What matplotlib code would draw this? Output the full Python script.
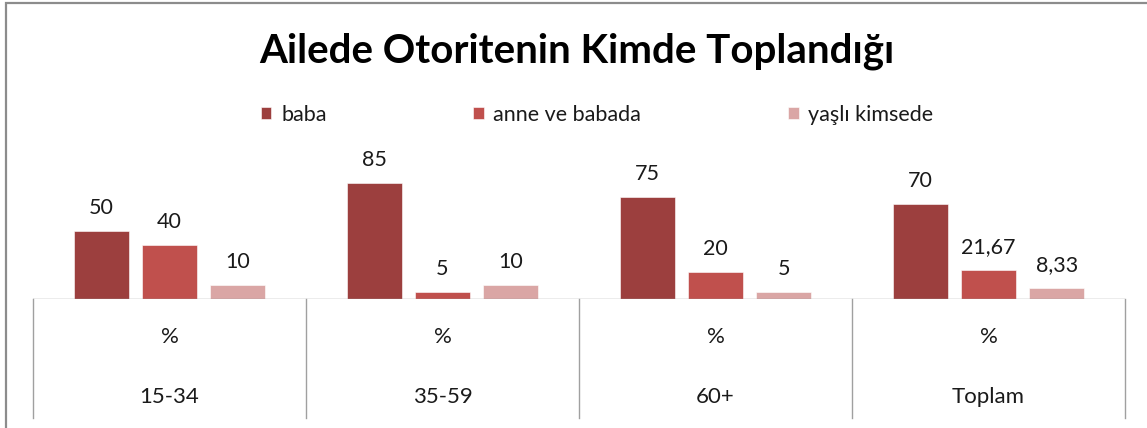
import numpy as np
import matplotlib.pyplot as plt
from matplotlib.patches import Rectangle
import matplotlib.transforms as mtransforms

plt.rcParams['font.family'] = ['Lato', 'DejaVu Sans']

title = "Ailede Otoritenin Kimde Toplandığı"
groups = ["15-34", "35-59", "60+", "Toplam"]
row_label = "%"
series_names = ["baba", "anne ve babada", "yaşlı kimsede"]
baba = [50, 85, 75, 70]
anne_baba = [40, 5, 20, 21.67]
yasli = [10, 10, 5, 8.33]
colors = ["#9C3F3E", "#C0504D", "#DAA6A5"]

W, H = 1147, 428
fig = plt.figure(figsize=(W / 100, H / 100), dpi=100)

# outer chart frame (only left/top visible in the crop)
fig.patches.append(Rectangle((6 / W, -0.1), 1.2, 1 - 3 / H + 0.1, transform=fig.transFigure,
                             fill=False, edgecolor="#8c8c8c", linewidth=1.6))

ax = fig.add_axes([33 / W, (H - 299) / H, (1125 - 33) / W, 136 / H])
x = np.arange(len(groups))
width = 0.2
offsets = [-0.25, 0, 0.25]

for vals, name, col, off in zip([baba, anne_baba, yasli], series_names, colors, offsets):
    bars = ax.bar(x + off, vals, width, color=col, label=name, edgecolor="white", linewidth=0.4)
    for b, v in zip(bars, vals):
        lbl = f"{v:g}".replace(".", ",")
        ax.annotate(lbl, (b.get_x() + b.get_width() / 2, v), xytext=(0, 16.5),
                    textcoords="offset points", ha="center", va="center",
                    fontsize=15.5, color="#1a1a1a")

ax.set_xlim(-0.5, len(groups) - 0.5)
ax.set_ylim(0, 100)
ax.axis("off")

# data table under the bars
trans = mtransforms.blended_transform_factory(ax.transData, ax.transAxes)
ax.axhline(0, color="#a0a0a0", linewidth=1.0)
depth = (418 - 299) / 136
for b in np.arange(-0.5, len(groups), 1.0):
    ax.plot([b, b], [0, -depth], transform=trans, color="#a0a0a0", linewidth=1.0, clip_on=False)
for i, g in enumerate(groups):
    ax.text(i, -(337 - 299) / 136, row_label, transform=trans, ha="center", va="center",
            fontsize=16, color="#1a1a1a")
    ax.text(i, -(397 - 299) / 136, g, transform=trans, ha="center", va="center",
            fontsize=16, color="#1a1a1a")

fig.text(577 / W, 1 - 51 / H, title, ha="center", va="center", fontsize=29,
         fontweight="bold", color="#000000")

fig.legend(loc="center", bbox_to_anchor=(597 / W, 1 - 115 / H), ncol=3, frameon=False,
           fontsize=15.5, handlelength=0.5, handleheight=0.5, handletextpad=0.45,
           columnspacing=6.8, labelcolor="#1a1a1a")

fig.savefig("out.png", dpi=100)
